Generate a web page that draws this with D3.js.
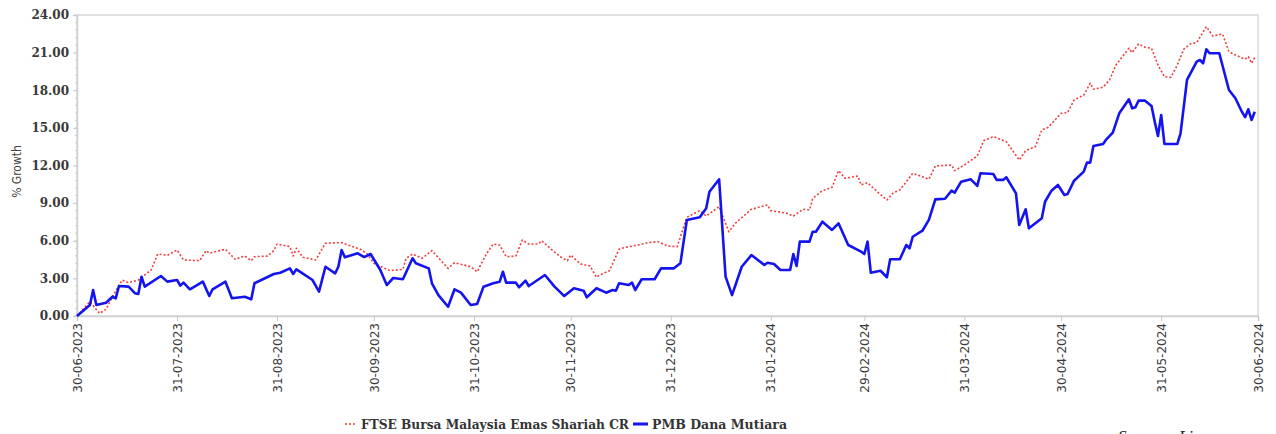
<!DOCTYPE html>
<html>
<head>
<meta charset="utf-8">
<script src="https://cdn.jsdelivr.net/npm/d3@7/dist/d3.min.js"></script>
<style>
  html, body { margin: 0; padding: 0; background: #fff; }
  svg { display: block; }
</style>
</head>
<body>
<svg id="chart" width="1276" height="434"></svg>
<script>
// ---------- DATA ----------
const seriesNames = ["FTSE Bursa Malaysia Emas Shariah CR", "PMB Dana Mutiara"];
const yTickValues = [0, 3, 6, 9, 12, 15, 18, 21, 24];
const xTickLabels = ["30-06-2023","31-07-2023","31-08-2023","30-09-2023","31-10-2023","30-11-2023",
  "31-12-2023","31-01-2024","29-02-2024","31-03-2024","30-04-2024","31-05-2024","30-06-2024"];

const ftseDates = ["2023-06-30","2023-07-04","2023-07-07","2023-07-09","2023-07-11","2023-07-14","2023-07-16",
  "2023-07-19","2023-07-23","2023-07-25","2023-07-28","2023-07-31","2023-08-02","2023-08-07","2023-08-09",
  "2023-08-10","2023-08-15","2023-08-18","2023-08-21","2023-08-23","2023-08-24","2023-08-28","2023-08-30",
  "2023-08-31","2023-09-04","2023-09-05","2023-09-06","2023-09-08","2023-09-12","2023-09-15","2023-09-20",
  "2023-09-22","2023-09-26","2023-09-28","2023-09-30","2023-10-05","2023-10-09","2023-10-10","2023-10-12",
  "2023-10-15","2023-10-18","2023-10-23","2023-10-25","2023-10-30","2023-11-01","2023-11-04","2023-11-06",
  "2023-11-08","2023-11-10","2023-11-13","2023-11-15","2023-11-17","2023-11-20","2023-11-21","2023-11-24",
  "2023-11-27","2023-11-29","2023-11-30","2023-12-03","2023-12-06","2023-12-08","2023-12-09","2023-12-12",
  "2023-12-15","2023-12-17","2023-12-21","2023-12-24","2023-12-27","2023-12-30","2024-01-02","2024-01-05",
  "2024-01-09","2024-01-11","2024-01-15","2024-01-18","2024-01-20","2024-01-25","2024-01-30","2024-01-31",
  "2024-02-05","2024-02-07","2024-02-10","2024-02-12","2024-02-13","2024-02-16","2024-02-19","2024-02-21",
  "2024-02-23","2024-02-27","2024-02-28","2024-03-01","2024-03-04","2024-03-07","2024-03-09","2024-03-11",
  "2024-03-13","2024-03-15","2024-03-17","2024-03-20","2024-03-22","2024-03-27","2024-03-28","2024-03-31",
  "2024-04-04","2024-04-06","2024-04-09","2024-04-13","2024-04-17","2024-04-19","2024-04-22","2024-04-24",
  "2024-04-26","2024-04-30","2024-05-02","2024-05-04","2024-05-07","2024-05-09","2024-05-10","2024-05-13",
  "2024-05-15","2024-05-17","2024-05-21","2024-05-22","2024-05-24","2024-05-26","2024-05-28","2024-05-30",
  "2024-06-01","2024-06-03","2024-06-05","2024-06-07","2024-06-09","2024-06-11","2024-06-14","2024-06-16",
  "2024-06-19","2024-06-21","2024-06-23","2024-06-26","2024-06-27","2024-06-28","2024-06-29"];
const ftseValues = [0.00,1.14,0.21,0.53,1.54,2.87,2.66,2.87,3.67,4.94,4.84,5.26,4.47,4.41,5.21,
  5.00,5.32,4.52,4.78,4.41,4.73,4.78,5.21,5.74,5.53,4.78,5.40,4.68,4.47,5.80,5.85,
  5.66,5.30,4.94,4.20,3.61,3.72,4.60,4.94,4.60,5.21,3.80,4.25,3.93,3.53,5.00,5.74,
  5.66,4.73,4.78,6.06,5.74,5.74,6.00,5.32,4.68,4.41,4.86,4.15,3.99,3.09,3.27,3.61,
  5.32,5.48,5.66,5.85,5.93,5.58,5.53,7.87,8.40,7.97,8.72,6.72,7.39,8.51,8.85,8.40,
  8.19,7.97,8.51,8.45,9.38,9.99,10.26,11.59,10.98,11.16,10.45,10.63,9.91,9.25,9.83,10.05,
  10.71,11.38,11.20,10.90,11.96,12.04,11.59,12.04,12.76,13.98,14.30,13.90,12.44,13.18,13.50,14.83,
  15.05,16.16,16.21,17.22,17.62,18.56,18.08,18.24,18.82,20.02,21.35,21.00,21.69,21.43,21.35,20.02,
  19.08,19.03,20.02,21.27,21.69,21.80,23.07,22.33,22.49,21.08,20.81,20.47,20.68,20.15,20.63];

const pmbDates = ["2023-06-30","2023-07-04","2023-07-05","2023-07-06","2023-07-09","2023-07-11","2023-07-12",
  "2023-07-13","2023-07-16","2023-07-18","2023-07-19","2023-07-20","2023-07-21","2023-07-26","2023-07-28",
  "2023-07-31","2023-08-01","2023-08-02","2023-08-04","2023-08-08","2023-08-10","2023-08-11","2023-08-15",
  "2023-08-17","2023-08-21","2023-08-23","2023-08-24","2023-08-30","2023-09-01","2023-09-04","2023-09-05",
  "2023-09-06","2023-09-11","2023-09-13","2023-09-15","2023-09-18","2023-09-19","2023-09-20","2023-09-21",
  "2023-09-25","2023-09-27","2023-09-29","2023-10-02","2023-10-04","2023-10-06","2023-10-09","2023-10-12",
  "2023-10-13","2023-10-17","2023-10-18","2023-10-20","2023-10-23","2023-10-25","2023-10-27","2023-10-30",
  "2023-11-01","2023-11-03","2023-11-06","2023-11-08","2023-11-09","2023-11-10","2023-11-13","2023-11-14",
  "2023-11-16","2023-11-17","2023-11-21","2023-11-22","2023-11-25","2023-11-28","2023-12-01","2023-12-04",
  "2023-12-05","2023-12-08","2023-12-11","2023-12-13","2023-12-14","2023-12-15","2023-12-18","2023-12-19",
  "2023-12-20","2023-12-22","2023-12-26","2023-12-28","2024-01-01","2024-01-03","2024-01-05","2024-01-09",
  "2024-01-11","2024-01-12","2024-01-15","2024-01-17","2024-01-19","2024-01-22","2024-01-25","2024-01-29",
  "2024-01-30","2024-02-01","2024-02-03","2024-02-06","2024-02-07","2024-02-08","2024-02-09","2024-02-12",
  "2024-02-13","2024-02-14","2024-02-16","2024-02-19","2024-02-21","2024-02-24","2024-02-28","2024-02-29",
  "2024-03-01","2024-03-02","2024-03-05","2024-03-07","2024-03-08","2024-03-11","2024-03-13","2024-03-14",
  "2024-03-15","2024-03-18","2024-03-20","2024-03-22","2024-03-25","2024-03-27","2024-03-28","2024-03-30",
  "2024-04-02","2024-04-04","2024-04-05","2024-04-09","2024-04-10","2024-04-12","2024-04-13","2024-04-16",
  "2024-04-17","2024-04-19","2024-04-20","2024-04-24","2024-04-25","2024-04-27","2024-04-29","2024-05-01",
  "2024-05-02","2024-05-04","2024-05-07","2024-05-08","2024-05-09","2024-05-10","2024-05-13","2024-05-14",
  "2024-05-16","2024-05-18","2024-05-21","2024-05-22","2024-05-23","2024-05-24","2024-05-26","2024-05-28",
  "2024-05-29","2024-05-30","2024-05-31","2024-06-01","2024-06-05","2024-06-06","2024-06-08","2024-06-11",
  "2024-06-12","2024-06-13","2024-06-14","2024-06-15","2024-06-18","2024-06-21","2024-06-23","2024-06-25",
  "2024-06-26","2024-06-27","2024-06-28","2024-06-29"];
const pmbValues = [0.00,0.88,2.07,0.88,1.06,1.54,1.41,2.39,2.34,1.81,1.75,3.13,2.34,3.19,2.74,
  2.87,2.42,2.66,2.13,2.74,1.59,2.13,2.74,1.41,1.54,1.33,2.61,3.35,3.45,3.80,3.35,
  3.72,2.87,1.94,3.93,3.40,3.93,5.26,4.68,5.00,4.70,4.94,3.67,2.47,3.03,2.93,4.60,
  4.20,3.80,2.61,1.67,0.74,2.13,1.86,0.88,0.96,2.34,2.61,2.74,3.53,2.66,2.66,2.29,
  2.82,2.39,3.09,3.27,2.34,1.59,2.21,2.02,1.49,2.21,1.86,2.07,2.02,2.61,2.47,2.66,
  2.07,2.93,2.93,3.80,3.80,4.20,7.66,7.87,8.59,9.91,10.90,3.14,1.67,3.93,4.86,4.07,
  4.25,4.15,3.67,3.67,4.94,3.99,5.93,5.93,6.72,6.72,7.52,6.86,7.39,5.66,5.13,4.94,
  5.93,3.45,3.61,3.09,4.52,4.52,5.66,5.40,6.32,6.80,7.66,9.30,9.35,9.99,9.83,10.71,
  10.90,10.37,11.38,11.32,10.85,10.85,11.06,9.78,7.26,8.51,6.99,7.79,9.11,9.99,10.45,9.65,
  9.73,10.79,11.51,12.23,12.23,13.56,13.72,14.09,14.62,16.16,17.28,16.56,16.64,17.17,17.17,16.75,
  15.49,14.35,16.03,13.72,13.72,14.57,18.82,20.28,20.41,20.15,21.27,20.95,20.95,18.02,17.36,16.29,
  15.85,16.48,15.63,16.29];

// ---------- CHART ----------
const parse = d3.timeParse("%Y-%m-%d");
const parseTick = d3.timeParse("%d-%m-%Y");
const fmtTick = d3.timeFormat("%d-%m-%Y");

const svg = d3.select("#chart");
const margin = {left: 77, right: 18, top: 15, bottom: 118};
const W = 1276, H = 434;
const x = d3.scaleTime()
  .domain([parseTick(xTickLabels[0]), parseTick(xTickLabels[xTickLabels.length - 1])])
  .range([margin.left, W - margin.right]);
const y = d3.scaleLinear().domain([0, 24]).range([H - margin.bottom, margin.top]);

// frame
svg.append("rect")
  .attr("x", margin.left).attr("y", margin.top)
  .attr("width", W - margin.right - margin.left)
  .attr("height", H - margin.bottom - margin.top)
  .attr("fill", "none").attr("stroke", "#d9d9d9").attr("stroke-width", 1.5);

// y axis minor ticks
const minor = d3.range(0, 24.001, 0.6);
svg.append("g").selectAll("line").data(minor).join("line")
  .attr("x1", margin.left - 2).attr("x2", margin.left)
  .attr("y1", d => y(d)).attr("y2", d => y(d))
  .attr("stroke", "#cfcfcf").attr("stroke-width", 1);

// y axis
const yAxis = svg.append("g")
  .attr("transform", `translate(${margin.left},0)`)
  .call(d3.axisLeft(y).tickValues(yTickValues).tickFormat(d3.format(".2f")).tickSize(4).tickPadding(4));
yAxis.select(".domain").attr("stroke", "#d0d0d0").attr("stroke-width", 1.5);
yAxis.selectAll(".tick line").attr("stroke", "#c8c8c8");
yAxis.selectAll("text")
  .attr("font-family", "'DejaVu Serif', serif").attr("font-size", 12)
  .attr("font-weight", "bold")
  .attr("fill", "#3a3a3a");

// x axis
const xAxis = svg.append("g")
  .attr("transform", `translate(0,${H - margin.bottom})`)
  .call(d3.axisBottom(x).tickValues(xTickLabels.map(parseTick)).tickFormat(fmtTick).tickSize(5));
xAxis.select(".domain").attr("stroke", "#d0d0d0").attr("stroke-width", 1.5);
xAxis.selectAll(".tick line").attr("stroke", "#c8c8c8");
xAxis.selectAll("text")
  .attr("font-family", "'DejaVu Sans', sans-serif").attr("font-size", 12)
  .attr("fill", "#3a3a3a")
  .attr("transform", "rotate(-90)")
  .attr("text-anchor", "end")
  .attr("x", -7).attr("y", 0).attr("dy", "0.35em");

// y axis title
svg.append("text")
  .attr("transform", `translate(21,${(y(12) + 6)}) rotate(-90)`)
  .attr("text-anchor", "middle")
  .attr("font-family", "'DejaVu Sans Condensed', 'Liberation Sans Narrow', 'DejaVu Sans', sans-serif")
  .attr("font-size", 12).attr("fill", "#444")
  .text("% Growth");

// lines
const ftse = ftseDates.map((d, i) => ({date: parse(d), v: ftseValues[i]}));
const pmb = pmbDates.map((d, i) => ({date: parse(d), v: pmbValues[i]}));
const line = d3.line().x(d => x(d.date)).y(d => y(d.v));

svg.append("path").datum(ftse)
  .attr("d", line).attr("fill", "none")
  .attr("stroke", "#f03c3c").attr("stroke-width", 1.6)
  .attr("stroke-dasharray", "2,2").attr("stroke-linejoin", "round");

svg.append("path").datum(pmb)
  .attr("d", line).attr("fill", "none")
  .attr("stroke", "#1414f0").attr("stroke-width", 2.6)
  .attr("stroke-linejoin", "round");

// legend
const lg = svg.append("g");
const legendFont = "'DejaVu Serif Condensed', 'DejaVu Serif', serif";
lg.append("line").attr("x1", 345).attr("x2", 357).attr("y1", 424).attr("y2", 424)
  .attr("stroke", "#f03c3c").attr("stroke-width", 1.6).attr("stroke-dasharray", "2,2");
lg.append("text").attr("x", 361).attr("y", 428.5)
  .attr("font-family", legendFont).attr("font-weight", "bold")
  .attr("font-size", 12.5).attr("fill", "#333")
  .attr("textLength", 268).attr("lengthAdjust", "spacingAndGlyphs")
  .text(seriesNames[0]);
lg.append("line").attr("x1", 633).attr("x2", 648).attr("y1", 424).attr("y2", 424)
  .attr("stroke", "#1414f0").attr("stroke-width", 3);
lg.append("text").attr("x", 652).attr("y", 428.5)
  .attr("font-family", legendFont).attr("font-weight", "bold")
  .attr("font-size", 12.5).attr("fill", "#333")
  .attr("textLength", 135).attr("lengthAdjust", "spacingAndGlyphs")
  .text(seriesNames[1]);

// source note (cut off at bottom, as in the original)
svg.append("text").attr("x", 1118).attr("y", 442)
  .attr("font-family", "'Liberation Serif', serif").attr("font-style", "italic")
  .attr("font-size", 17).attr("fill", "#222")
  .text("Source : Lipper");
</script>
</body>
</html>
